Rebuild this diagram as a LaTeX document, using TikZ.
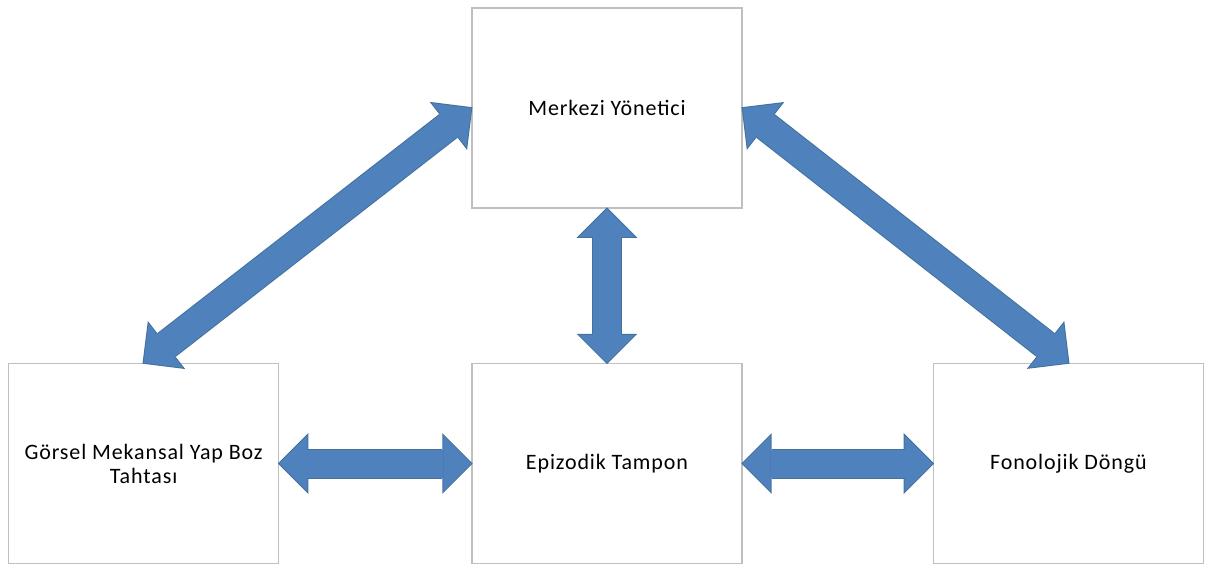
\documentclass[tikz,border=0pt]{standalone}
\usepackage{fontspec}
\setmainfont{Carlito}[LetterSpace=4]
\usepackage{tikz}
\usetikzlibrary{positioning, arrows.meta}
\definecolor{arrowblue}{RGB}{79,129,189}
\definecolor{arrowedge}{RGB}{65,113,156}
\tikzstyle{box} = [rectangle, minimum width=270pt, minimum height=200pt, text centered, align=center, draw=gray!50, line width=1.4pt, font=\fontsize{22}{24}\selectfont]
\tikzstyle{arrow} = [line width=28pt, draw=arrowblue, {Triangle[length=28pt,width=56pt,line width=0pt]}-{Triangle[length=28pt,width=56pt,line width=0pt]}, preaction={draw=arrowedge, line width=30pt, {Triangle[length=30.4pt,width=60.8pt,line width=0pt]}-{Triangle[length=30.4pt,width=60.8pt,line width=0pt]}, shorten <=-1.4pt, shorten >=-1.4pt}]

\begin{document}
\begin{tikzpicture}[node distance=154pt]
    \useasboundingbox (-607pt,-104.5pt) rectangle (603pt,463.5pt);
    \node (epizodik) [box] at (0,0) {Epizodik Tampon};
    \node (yonetici) [box, above=154pt of epizodik] {Merkezi Yönetici};
    \node (gorsel) [box, left=192pt of epizodik] {Görsel Mekansal Yap Boz\\Tahtası};
    \node (fonolojik) [box, right=190pt of epizodik] {Fonolojik Döngü};

    \draw [arrow] (gorsel.north) -- (yonetici.west);
    \draw [arrow] (yonetici.east) -- (fonolojik.north);
    \draw [arrow] (yonetici.south) -- (epizodik.north);
    \draw [arrow] (gorsel.east) -- (epizodik.west);
    \draw [arrow] (epizodik.east) -- (fonolojik.west);
  \end{tikzpicture}
\end{document}
